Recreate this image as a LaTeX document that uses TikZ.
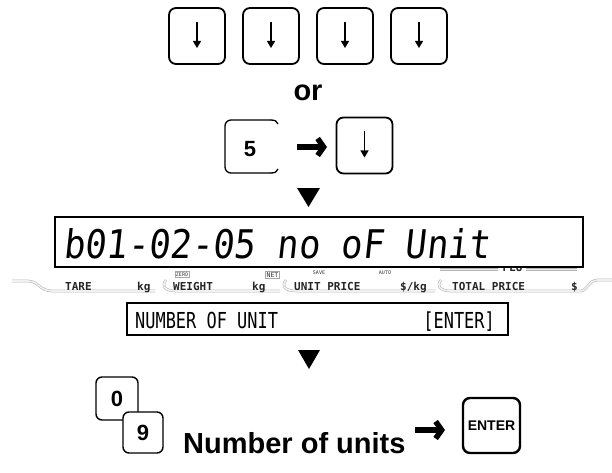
\documentclass[tikz,border=0pt]{standalone}
\usepackage{fontspec}
\setmainfont{Liberation Sans}
\newfontfamily\lcdfont[FakeSlant=0.12]{DejaVu Sans Mono}
\newfontfamily\labfont{DejaVu Sans Mono}
\usetikzlibrary{arrows.meta}
\tikzset{
  keybox/.style={draw, line width=1.8pt, rounded corners=7pt, fill=white,
    minimum width=56pt, minimum height=56pt, inner sep=0pt, outer sep=0pt},
  numkey/.style={keybox, line width=1.4pt, rounded corners=6pt,
    font=\bfseries\fontsize{22}{22}\selectfont},
  bigtext/.style={font=\bfseries\fontsize{29}{29}\selectfont, inner sep=0pt},
  rarrow/.style={line width=5.5pt, -{Straight Barb[length=6pt,width=17pt,line join=miter]}},
  downarr/.style={line width=1.1pt, -{Triangle[length=7pt,width=8pt]}},
  band/.style={draw=gray!60, double=gray!12, double distance=1.6pt, line width=0.5pt},
  lab/.style={font=\labfont\bfseries\fontsize{11}{11}\selectfont, inner sep=0pt, text=black!85},
  tinylab/.style={font=\labfont\fontsize{5}{5}\selectfont, inner sep=1pt, text=black!80},
  msgtext/.style={font=\labfont\fontsize{22}{22}\selectfont, inner sep=0pt},
  tri/.style={fill=black}
}
\begin{document}
\begin{tikzpicture}[x=1pt,y=-1pt]
\useasboundingbox (0,0) rectangle (612,473);

% top row of down keys
\foreach \i/\x in {1/197,2/271,3/345,4/419}{
  \node[keybox] (k\i) at (\x,36) {};
  \draw[downarr] ([yshift=14pt]k\i.center) -- ([yshift=-12pt]k\i.center);
}

\node[bigtext, anchor=base] (or) at (308,101) {or};

% 5 -> down
\node[font=\bfseries\fontsize{22}{22}\selectfont, inner sep=0pt] (k5) at (250,149) {5};
\draw[line width=1.3pt, rounded corners=6pt] (271,120) -- (225,120) -- (225,173) -- (271,173);
\draw[line width=1.3pt] (270.5,120) .. controls (275,120) and (277,121) .. (278,124);
\draw[line width=1.3pt] (270.5,173) .. controls (275,173) and (277,172) .. (278,169);
\node[keybox] (kd) at (364.5,145.5) {};
\draw[downarr] ([yshift=14pt]kd.center) -- ([yshift=-12pt]kd.center);
\coordinate (a1s) at (297,147);
\coordinate (a1e) at (327,147);
\draw[rarrow] (a1s) -- (a1e);

\fill[tri] (297,188) -- (320,188) -- (308.5,207) -- cycle;

% annunciator bands
\draw[band] (12,281) -- (28,281) .. controls (38,281) and (40,291) .. (52,291) -- (155,291);
\draw[band] (166,280) .. controls (161,286) and (165,291) .. (176,291) -- (280,291);
\draw[band] (286,280) .. controls (281,286) and (285,291) .. (296,291) -- (435,291);
\draw[band] (441,280) .. controls (436,286) and (440,291) .. (451,291) -- (580,291)
  .. controls (588,291) and (588,280) .. (598,280) -- (612,280);
\draw[band] (440,269.5) -- (498,269.5);
\draw[band] (526,269.5) -- (577,269.5);
\node[lab] (plu) at (512.5,268) {PLU};

% display
\node[draw, line width=1.5pt, fill=white, minimum width=528pt, minimum height=50pt, inner sep=0pt] (disp) at (319,242) {};
\node[inner sep=0pt, anchor=base west] (dtext) at (63,258) {\resizebox{427pt}{30pt}{\lcdfont b01-02-05 no oF Unit}};

% labels
\node[lab, anchor=base west] (tare) at (65,290) {TARE};
\node[lab, anchor=base west] (kg1) at (137,290) {kg};
\node[lab, anchor=base west] (wgt) at (173,290) {WEIGHT};
\node[lab, anchor=base west] (kg2) at (252,290) {kg};
\node[lab, anchor=base west] (up) at (294,290) {UNIT PRICE};
\node[lab, anchor=base west] (pkg) at (400,290) {\$/kg};
\node[lab, anchor=base west] (tp) at (452,290) {TOTAL PRICE};
\node[lab, anchor=base west] (dol) at (571,290) {\$};
\node[tinylab, draw=gray!70, line width=0.5pt] (zero) at (182,274.5) {ZERO};
\node[tinylab, draw=gray!70, line width=0.5pt, font=\labfont\fontsize{6.5}{6.5}\selectfont] (net) at (272.5,275) {NET};
\node[tinylab] (save) at (319,273) {SAVE};
\node[tinylab] (auto) at (385,273) {AUTO};

% message box
\node[draw, line width=1.5pt, minimum width=381pt, minimum height=32pt, inner sep=0pt] (msg) at (317.5,319) {};
\node[msgtext, anchor=base west] (m1) at (135,328) {\scalebox{0.77}[1]{NUMBER OF UNIT}};
\node[msgtext, anchor=base east] (m2) at (495,328) {\scalebox{0.77}[1]{[ENTER]}};

\fill[tri] (298,350) -- (320,350) -- (309,369) -- cycle;

% bottom
\node[numkey, minimum width=42pt, minimum height=43pt] (k0) at (117,398.5) {0};
\node[numkey, minimum width=40pt, minimum height=41pt] (k9) at (143,432.5) {9};
\node[bigtext, anchor=base west] (lbl) at (183,453) {Number of units};
\coordinate (a2s) at (415,430);
\coordinate (a2e) at (445,430);
\draw[rarrow] (a2s) -- (a2e);
\node[keybox, line width=2.4pt, minimum width=57pt, minimum height=55pt,
  font=\bfseries\fontsize{14}{14}\selectfont] (ke) at (491.5,425.5) {ENTER};
\end{tikzpicture}
\end{document}
